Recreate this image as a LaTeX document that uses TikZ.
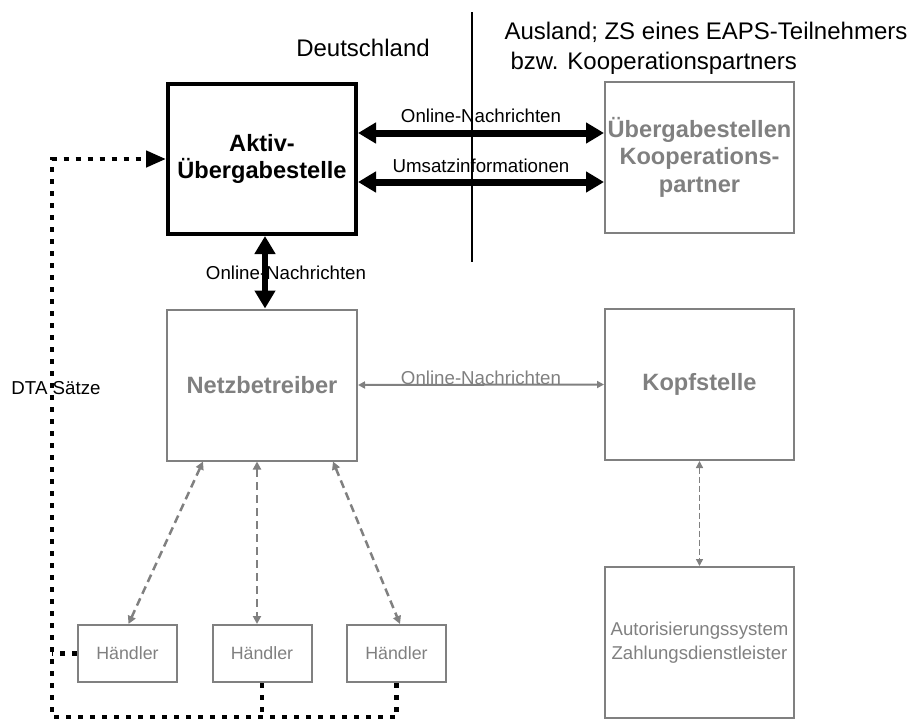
\documentclass[tikz,border=0pt]{standalone}
\usepackage{fontspec}
\setmainfont{Liberation Sans}
\usetikzlibrary{arrows.meta}

\begin{document}
\begin{tikzpicture}[x=1pt, y=-1pt,
		bigfont/.style={font=\fontsize{23.6}{27.5}\selectfont\bfseries},
		smallfont/.style={font=\fontsize{18.7}{24}\selectfont},
		mainbox/.style={draw, line width=4pt, minimum width=188pt, minimum height=150pt, inner sep=0pt, align=center, bigfont},
		greybox/.style={draw=black!50, line width=2pt, minimum width=189pt, minimum height=151pt, inner sep=0pt, align=center, text=black!50},
		haendlerbox/.style={draw=black!50, line width=2pt, minimum width=99pt, minimum height=57pt, inner sep=0pt, text=black!50, font=\fontsize{17.8}{20}\selectfont},
		bigarrow/.style={line width=7pt, {Triangle[length=18pt,width=20pt]}-{Triangle[length=18pt,width=20pt]}},
		greyarrow/.style={draw=black!50, line width=2pt, {Triangle[length=7pt,width=7pt]}-{Triangle[length=7pt,width=7pt]}},
		dasharrow/.style={draw=black!50, line width=2.5pt, dash pattern=on 8pt off 5pt, {Triangle[length=8pt,width=8pt]}-{Triangle[length=8pt,width=8pt]}},
		dtaline/.style={line width=4.5pt, dash pattern=on 5pt off 7pt}
	]
		\useasboundingbox (0,0) rectangle (912,720);

		% Kopfzeile
		\node[font=\fontsize{24}{30}\selectfont] (de) at (363,48) {Deutschland};
		\node[font=\fontsize{24}{30}\selectfont, anchor=west, align=left] (ausland) at (501,48) {Ausland; ZS eines EAPS-Teilnehmers\\\hspace*{6pt}bzw. Kooperationspartners};
		\draw[line width=1.5pt] (472,12) -- (472,262);

		% Kästen
		\node[mainbox] (aktiv) at (262,159) {Aktiv-\\Übergabestelle};
		\node[greybox, bigfont] (partner) at (699.5,157) {Übergabestellen\\Kooperations-\\partner};
		\node[greybox, bigfont, minimum width=190pt] (netz) at (262,385) {Netzbetreiber};
		\node[greybox, bigfont] (kopf) at (699.5,384.5) {Kopfstelle};
		\node[greybox, smallfont, font=\fontsize{18.6}{23.5}\selectfont] (autor) at (699.5,642.5) {Autorisierungssystem\\Zahlungsdienstleister};

		\node[haendlerbox] (h1) at (127.5,653.5) {Händler};
		\node[haendlerbox] (h2) at (262,653.5) {Händler};
		\node[haendlerbox] (h3) at (396.5,653.5) {Händler};

		% Verbindungen
		\draw[bigarrow] ([yshift=26pt]aktiv.east) -- ([yshift=24pt]partner.west) node[midway, above=3pt, smallfont] (txon) {Online-Nachrichten};
		\draw[bigarrow] ([yshift=-23pt]aktiv.east) -- ([yshift=-25pt]partner.west) node[midway, above=2pt, smallfont] (txums) {Umsatzinformationen};
		\draw[bigarrow, line width=6pt] ([xshift=3pt]aktiv.south) -- ([xshift=3pt]netz.north);
		\node[smallfont] (txnetz) at (286,273) {Online-Nachrichten};
		\draw[greyarrow] (netz.east) -- (kopf.west) node[midway, yshift=7pt, smallfont, text=black!50] (txkopf) {Online-Nachrichten};
		\draw[draw=black!50, line width=1.5pt, dash pattern=on 6pt off 3pt, {Triangle[length=7pt,width=7pt]}-{Triangle[length=7pt,width=7pt]}] (kopf.south) -- (autor.north);

		\draw[dasharrow] ([xshift=-59pt]netz.south) -- ([xshift=1pt]h1.north);
		\draw[dasharrow] ([xshift=-5pt]netz.south) -- ([xshift=-5pt]h2.north);
		\draw[dasharrow] ([xshift=71pt]netz.south) -- ([xshift=3.5pt]h3.north);

		% DTA-Sätze
		\coordinate (dtabl) at (52,717);
		\draw[dtaline, -{Triangle[length=20pt,width=16pt]}] (h3.south) |- (dtabl) |- (aktiv.west);
		\draw[dtaline] (h2.south) -- (h2.south |- dtabl);
		\draw[dtaline] (h1.west) -- (h1.west -| dtabl);
		\node[smallfont] (dta) at (56,388) {DTA Sätze};
	\end{tikzpicture}
\end{document}
